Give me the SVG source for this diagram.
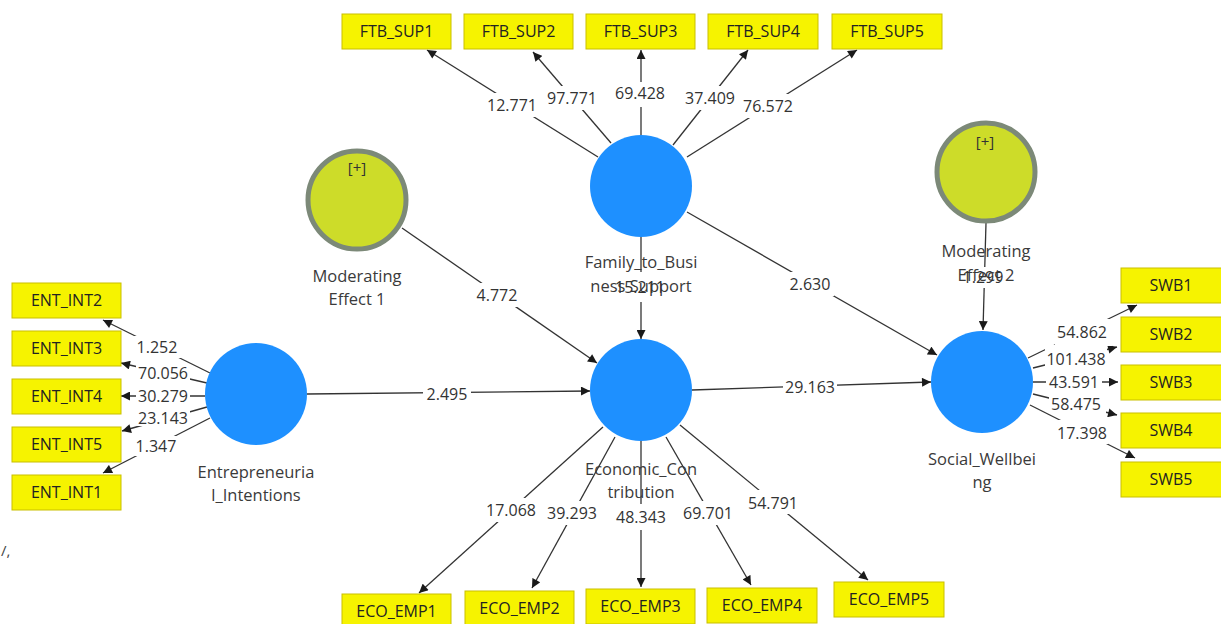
<svg xmlns="http://www.w3.org/2000/svg" width="1221" height="624" viewBox="0 0 1221 624">
<style>
.ind rect{fill:#f6f300;stroke:#c9bf00;stroke-width:1}
.ind text{font-family:"Open Sans","Noto Sans",sans-serif;font-size:16px;fill:#222;text-anchor:middle}
.lv circle{fill:#1e90ff}
.mod circle{fill:#cddc29;stroke:#7c8978;stroke-width:5}
.nl{font-family:"Open Sans","Noto Sans",sans-serif;font-size:16.5px;fill:#3a3a3a;text-anchor:middle}
.pl{font-family:"Open Sans","Noto Sans",sans-serif;font-size:15px;fill:#333;text-anchor:middle}
.lab{font-family:"Open Sans","Noto Sans",sans-serif;font-size:16px;fill:#333;text-anchor:middle}
.con path{fill:none;stroke:#333;stroke-width:1.3;marker-end:url(#ah)}
</style>
<defs>
<marker id="ah" viewBox="0 0 10 10" refX="10" refY="5" markerWidth="10" markerHeight="9" markerUnits="userSpaceOnUse" orient="auto">
<path d="M0,0 L10,5 L0,10 z" fill="#1a1a1a"/>
</marker>
<mask id="gaps" maskUnits="userSpaceOnUse" x="0" y="0" width="1221" height="624">
<rect x="0" y="0" width="1221" height="624" fill="#fff"/>
<g fill="#000">
<rect x="486" y="93" width="52" height="24"/>
<rect x="546" y="86" width="52" height="24"/>
<rect x="614" y="82" width="52" height="25"/>
<rect x="684" y="86" width="52" height="24"/>
<rect x="742" y="94" width="52" height="24"/>
<rect x="475" y="283" width="44" height="24"/>
<rect x="614" y="272" width="52" height="30"/>
<rect x="786" y="272" width="48" height="24"/>
<rect x="961" y="267" width="44" height="21"/>
<rect x="423" y="384" width="48" height="20"/>
<rect x="783" y="377" width="54" height="20"/>
<rect x="133" y="336" width="51" height="22"/>
<rect x="136" y="365" width="54" height="17"/>
<rect x="136" y="388" width="54" height="16"/>
<rect x="136" y="410" width="54" height="16"/>
<rect x="133" y="436" width="47" height="20"/>
<rect x="1055" y="319" width="57" height="27"/>
<rect x="1045" y="345" width="62" height="22"/>
<rect x="1046" y="373" width="56" height="18"/>
<rect x="1049" y="396" width="57" height="18"/>
<rect x="1055" y="420" width="53" height="24"/>
<rect x="486" y="498" width="51" height="24"/>
<rect x="547" y="501" width="51" height="24"/>
<rect x="615" y="504" width="52" height="26"/>
<rect x="683" y="501" width="51" height="24"/>
<rect x="747" y="490" width="52" height="24"/>
</g>
</mask>
</defs>
<rect x="0" y="0" width="1221" height="624" fill="#fff"/>

<g id="connectors" class="con" mask="url(#gaps)">
<path d="M598,157 L427,50"/>
<path d="M611,143 L533,52"/>
<path d="M641,135 L641,50"/>
<path d="M673,145 L748,50"/>
<path d="M687,157 L857,50"/>
<path d="M402,228 L597,363"/>
<path d="M641,237 L641,339"/>
<path d="M687,212 L937,355"/>
<path d="M986,223 L983,330"/>
<path d="M307,394 L590,391"/>
<path d="M692,390 L931,382"/>
<path d="M210,373 L103,320"/>
<path d="M207,383 L121,363"/>
<path d="M205,396 L121,396"/>
<path d="M207,407 L122,431"/>
<path d="M210,418 L103,473"/>
<path d="M1028,358 L1137,305"/>
<path d="M1033,368 L1117,347"/>
<path d="M1033,382 L1118,382"/>
<path d="M1033,394 L1117,415"/>
<path d="M1030,405 L1135,458"/>
<path d="M603,427 L419,593"/>
<path d="M615,437 L532,588"/>
<path d="M641,441 L641,587"/>
<path d="M666,437 L751,585"/>
<path d="M680,425 L868,580"/>
</g>

<g id="ftb_sup1" class="ind"><rect x="342" y="14" width="109" height="35"/><text x="396.5" y="37">FTB_SUP1</text></g>
<g id="ftb_sup2" class="ind"><rect x="464" y="14" width="109" height="35"/><text x="518.5" y="37">FTB_SUP2</text></g>
<g id="ftb_sup3" class="ind"><rect x="586" y="14" width="109" height="35"/><text x="640.5" y="37">FTB_SUP3</text></g>
<g id="ftb_sup4" class="ind"><rect x="708" y="14" width="110" height="35"/><text x="763" y="37">FTB_SUP4</text></g>
<g id="ftb_sup5" class="ind"><rect x="832" y="14" width="110" height="35"/><text x="887" y="37">FTB_SUP5</text></g>

<g id="ent_int2" class="ind"><rect x="12" y="283" width="109" height="35"/><text x="66.5" y="306">ENT_INT2</text></g>
<g id="ent_int3" class="ind"><rect x="12" y="331" width="109" height="35"/><text x="66.5" y="354">ENT_INT3</text></g>
<g id="ent_int4" class="ind"><rect x="12" y="379" width="109" height="35"/><text x="66.5" y="402">ENT_INT4</text></g>
<g id="ent_int5" class="ind"><rect x="12" y="427" width="109" height="35"/><text x="66.5" y="450">ENT_INT5</text></g>
<g id="ent_int1" class="ind"><rect x="12" y="475" width="109" height="35"/><text x="66.5" y="498">ENT_INT1</text></g>

<g id="swb1" class="ind"><rect x="1121" y="268" width="104" height="35"/><text x="1171" y="291">SWB1</text></g>
<g id="swb2" class="ind"><rect x="1121" y="317" width="104" height="35"/><text x="1171" y="340">SWB2</text></g>
<g id="swb3" class="ind"><rect x="1121" y="365" width="104" height="35"/><text x="1171" y="388">SWB3</text></g>
<g id="swb4" class="ind"><rect x="1121" y="413" width="104" height="35"/><text x="1171" y="436">SWB4</text></g>
<g id="swb5" class="ind"><rect x="1121" y="462" width="104" height="35"/><text x="1171" y="485">SWB5</text></g>

<g id="eco_emp1" class="ind"><rect x="342" y="594" width="109" height="35"/><text x="396.5" y="617">ECO_EMP1</text></g>
<g id="eco_emp2" class="ind"><rect x="465" y="591" width="109" height="35"/><text x="519.5" y="614">ECO_EMP2</text></g>
<g id="eco_emp3" class="ind"><rect x="586" y="589" width="109" height="35"/><text x="640.5" y="612">ECO_EMP3</text></g>
<g id="eco_emp4" class="ind"><rect x="707" y="588" width="110" height="35"/><text x="762" y="611">ECO_EMP4</text></g>
<g id="eco_emp5" class="ind"><rect x="834" y="582" width="110" height="35"/><text x="889" y="605">ECO_EMP5</text></g>

<g id="family_to_business_support" class="lv"><circle cx="641" cy="186" r="51"/><text class="nl" x="641" y="268">Family_to_Busi</text><text class="nl" x="641" y="292">ness Support</text></g>
<g id="economic_contribution" class="lv"><circle cx="641" cy="390" r="51"/><text class="nl" x="641" y="475">Economic_Con</text><text class="nl" x="641" y="498">tribution</text></g>
<g id="entrepreneurial_intentions" class="lv"><circle cx="256" cy="394" r="51"/><text class="nl" x="256" y="478">Entrepreneuria</text><text class="nl" x="256" y="501">l_Intentions</text></g>
<g id="social_wellbeing" class="lv"><circle cx="982" cy="382" r="51"/><text class="nl" x="982" y="465">Social_Wellbei</text><text class="nl" x="982" y="488">ng</text></g>
<g id="moderating_effect_1" class="mod"><circle cx="357" cy="200" r="49"/><text class="pl" x="357" y="173">[+]</text><text class="nl" x="357" y="282">Moderating</text><text class="nl" x="357" y="305">Effect 1</text></g>
<g id="moderating_effect_2" class="mod"><circle cx="986" cy="172" r="49"/><text class="pl" x="985" y="147">[+]</text><text class="nl" x="986" y="257">Moderating</text><text class="nl" x="986" y="281">Effect 2</text></g>

<g id="labels" class="lab">
<text x="512" y="111">12.771</text>
<text x="572" y="104">97.771</text>
<text x="640" y="99">69.428</text>
<text x="710" y="104">37.409</text>
<text x="768" y="112">76.572</text>
<text x="497" y="301">4.772</text>
<text x="640" y="293">15.211</text>
<text x="810" y="290">2.630</text>
<text x="983" y="283">1.299</text>
<text x="447" y="400">2.495</text>
<text x="810" y="393">29.163</text>
<text x="157" y="353">1.252</text>
<text x="163" y="379">70.056</text>
<text x="163" y="402">30.279</text>
<text x="163" y="424">23.143</text>
<text x="156" y="452">1.347</text>
<text x="1082" y="338">54.862</text>
<text x="1076" y="365">101.438</text>
<text x="1074" y="388">43.591</text>
<text x="1076" y="410">58.475</text>
<text x="1082" y="439">17.398</text>
<text x="511" y="516">17.068</text>
<text x="572" y="519">39.293</text>
<text x="641" y="523">48.343</text>
<text x="708" y="519">69.701</text>
<text x="773" y="509">54.791</text>
</g>
<text x="1" y="556" font-family="Open Sans, sans-serif" font-size="15" fill="#444">/,</text>
</svg>
